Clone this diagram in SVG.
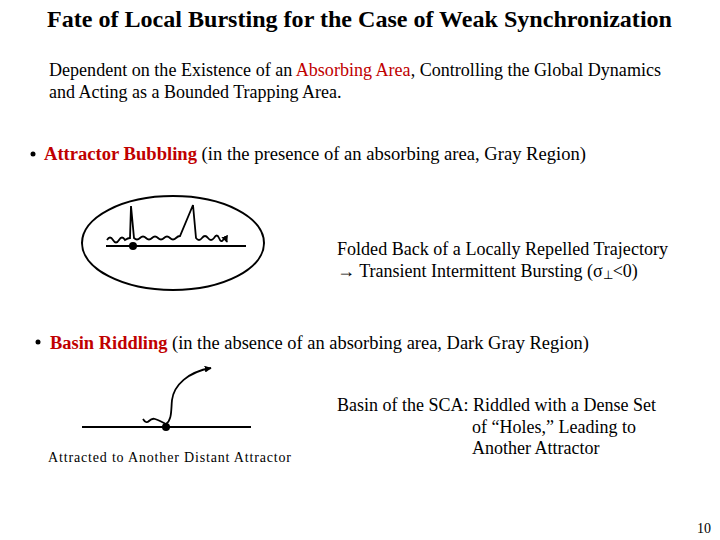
<svg xmlns="http://www.w3.org/2000/svg" width="720" height="540" viewBox="0 0 720 540">
<defs>
<style>
text{font-family:"Liberation Serif","Times New Roman",serif;fill:#000}
.title{font-size:24px;font-weight:bold}
.body{font-size:18px}
.red{fill:#c00000;font-weight:bold}
.small{font-size:14px}
.ln{stroke:#000;stroke-width:2;fill:none}
.traj{stroke:#000;stroke-width:1.8;fill:none}
</style>
<marker id="ah" viewBox="0 0 10 10" refX="9" refY="5" markerWidth="7" markerHeight="7" orient="auto" markerUnits="userSpaceOnUse">
<path d="M0,0 L10,5 L0,10 Z" fill="#000"/>
</marker>
</defs>
<rect width="720" height="540" fill="#fff"/>
<text class="title" x="47" y="27" textLength="625" lengthAdjust="spacingAndGlyphs">Fate of Local Bursting for the Case of Weak Synchronization</text>
<text class="body" x="49" y="76" textLength="612" lengthAdjust="spacingAndGlyphs">Dependent on the Existence of an <tspan fill="#c00000">Absorbing Area</tspan>, Controlling the Global Dynamics</text>
<text class="body" x="49" y="98">and Acting as a Bounded Trapping Area.</text>
<circle cx="33" cy="154" r="2.5" fill="#000"/>
<text class="body" x="44" y="160" textLength="542" lengthAdjust="spacingAndGlyphs"><tspan class="red">Attractor Bubbling</tspan> (in the presence of an absorbing area, Gray Region)</text>
<g id="bubbling">
<ellipse class="ln" cx="173" cy="243" rx="91" ry="47"/>
<line class="ln" x1="106" y1="246" x2="246" y2="246"/>
<path class="traj" marker-end="url(#ah)" d="M107,240 q3,-5 6,0 t6,0 t6,0 q3,-2 5,-2 L131,206 L134,238 q3,3 6,0 t6,0 t6,0 t6,0 t6,0 t6,0 t6,0 q2,-2 4,-2 L193,205 L196,238 q3,4 6,0 t6,0 t6,0 q3,-5 5,0 t4,2 t4,2"/>
<circle cx="133" cy="246" r="4" fill="#000"/>
</g>
<text class="body" x="337" y="255" textLength="331" lengthAdjust="spacingAndGlyphs">Folded Back of a Locally Repelled Trajectory</text>
<text class="body" x="337" y="277">→ Transient Intermittent Bursting (σ<tspan font-size="12" dy="2">⊥</tspan><tspan dy="-2">&lt;0)</tspan></text>
<circle cx="38" cy="342" r="2.5" fill="#000"/>
<text class="body" x="50" y="349" textLength="539" lengthAdjust="spacingAndGlyphs"><tspan class="red">Basin Riddling</tspan> (in the absence of an absorbing area, Dark Gray Region)</text>
<g id="riddling">
<line class="ln" x1="82" y1="427" x2="251" y2="427"/>
<path class="traj" d="M143,419 q3,5 6,2 t6,-2 t5,2 t4,2 t3,2"/>
<path class="traj" marker-end="url(#ah)" d="M166,424 C172,420 171,410 172,400 C174,385 188,372 211,368"/>
<circle cx="166" cy="427" r="4" fill="#000"/>
</g>
<text class="small" x="48" y="462" textLength="243" lengthAdjust="spacing">Attracted to Another Distant Attractor</text>
<text class="body" x="337" y="411" textLength="319" lengthAdjust="spacingAndGlyphs">Basin of the SCA: Riddled with a Dense Set</text>
<text class="body" x="472" y="433">of “Holes,” Leading to</text>
<text class="body" x="472" y="454">Another Attractor</text>
<text class="small" x="697" y="533">10</text>
</svg>
